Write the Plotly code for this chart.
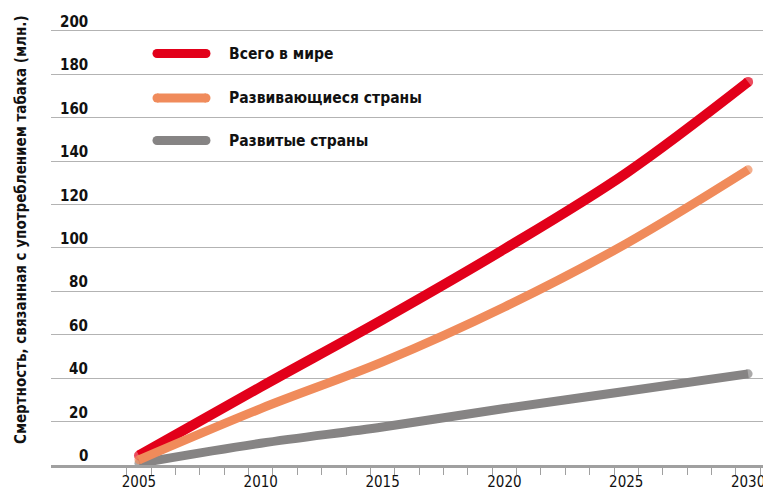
import plotly.graph_objects as go

# ---- data ----
years = [2005, 2010, 2015, 2020, 2025, 2030]
world = [4.4, 36.0, 67.0, 99.5, 134.5, 176.5]
developing = [2.4, 26.0, 47.5, 72.8, 102.0, 136.0]
developed = [0.8, 10.0, 17.5, 26.0, 34.0, 42.0]

series_names = ["Всего в мире", "Развивающиеся страны", "Развитые страны"]
y_tick_values = [0, 20, 40, 60, 80, 100, 120, 140, 160, 180, 200]
x_tick_values = [2005, 2010, 2015, 2020, 2025, 2030]
y_title = "Смертность, связанная с употреблением табака (млн.)"

# ---- styling ----
RED = "#E2001A"
ORANGE = "#F08B5B"
GRAY = "#868484"
FONT = "DejaVu Sans Condensed, Liberation Sans Narrow, sans-serif"
TXT = "#111111"

# The page body has a margin; all layout below is expressed in
# page pixels and converted to figure pixels.
OFF_X, OFF_Y = 8, 6
PAGE_W, PAGE_H = 771, 494
W, H = PAGE_W - OFF_X, PAGE_H - OFF_Y
PLOT_L, PLOT_R, PLOT_T, PLOT_B = 51, 771, 20, 463   # page pixels
ML, MR, MT, MB = PLOT_L - OFF_X, PAGE_W - PLOT_R, PLOT_T - OFF_Y, PAGE_H - PLOT_B
PW, PH = PLOT_R - PLOT_L, PLOT_B - PLOT_T


def px_x(p):
    return (p - PLOT_L) / PW


def px_y(p):
    return (PLOT_B - p) / PH


fig = go.Figure()


def add_series(values, color, width):
    n = len(values)
    sizes = [width if i in (0, n - 1) else 0 for i in range(n)]
    fig.add_trace(go.Scatter(
        x=years, y=values, mode="lines+markers",
        line=dict(color=color, width=width, shape="spline", smoothing=1.0),
        marker=dict(color=color, size=sizes, line=dict(width=0)),
        showlegend=False, hoverinfo="x+y",
    ))


add_series(developed, GRAY, 9)
add_series(world, RED, 10)
add_series(developing, ORANGE, 9)

annotations = []
# y tick labels (sitting just above the gridlines, as in the reference)
for v in y_tick_values:
    annotations.append(dict(
        x=px_x(90), xref="paper", xanchor="right",
        y=v, yref="y", yanchor="bottom", yshift=-2,
        text="<b>%d</b>" % v, showarrow=False,
        font=dict(family=FONT, size=15, color=TXT),
    ))

# y axis title
annotations.append(dict(
    x=px_x(21), xref="paper", xanchor="center",
    y=px_y(228), yref="paper", yanchor="middle",
    text="<b>" + y_title + "</b>", textangle=-90, showarrow=False,
    font=dict(family=FONT, size=15, color=TXT),
))

# custom legend
shapes = []
legend_rows = [(series_names[0], RED, 51.5), (series_names[1], ORANGE, 96), (series_names[2], GRAY, 138.5)]
for name, color, py in legend_rows:
    shapes.append(dict(
        type="line", xref="paper", yref="paper",
        x0=px_x(157), x1=px_x(206), y0=px_y(py), y1=px_y(py),
        line=dict(color=color, width=9),
    ))
    for cx in (157, 206):
        shapes.append(dict(
            type="circle", xref="paper", yref="paper",
            x0=px_x(cx - 4.5), x1=px_x(cx + 4.5), y0=px_y(py + 4.5), y1=px_y(py - 4.5),
            fillcolor=color, line=dict(width=0),
        ))
    annotations.append(dict(
        x=px_x(227), xref="paper", xanchor="left",
        y=px_y(py), yref="paper", yanchor="middle",
        text="<b>" + name + "</b>", showarrow=False,
        font=dict(family=FONT, size=15.5, color=TXT),
    ))

minor_ticks = [y - 0.5 for y in range(years[0], years[-1] + 2)]

fig.update_layout(
    width=W, height=H,
    margin=dict(l=ML, r=MR, t=MT, b=MB, pad=0),
    paper_bgcolor="white", plot_bgcolor="white",
    annotations=annotations, shapes=shapes,
    showlegend=False,
    xaxis=dict(
        range=[2001.39, 2030.94],
        tickmode="array", tickvals=x_tick_values,
        ticks="", showgrid=False, zeroline=False,
        showline=True, linecolor="#a0a0a0", linewidth=3,
        tickfont=dict(family=FONT, size=15, color=TXT),
        ticklabelstandoff=1,
        minor=dict(tickmode="array", tickvals=minor_ticks, ticks="outside",
                   ticklen=7, tickwidth=1, tickcolor="#a0a0a0", showgrid=False),
        fixedrange=True,
    ),
    yaxis=dict(
        range=[0, 204.1],
        tickmode="array", tickvals=y_tick_values,
        showticklabels=False, ticks="",
        showgrid=True, gridcolor="#b3b3b3", gridwidth=1,
        zeroline=False, showline=False,
        fixedrange=True,
    ),
    font=dict(family=FONT, color=TXT),
)

fig.write_html("out.html")
